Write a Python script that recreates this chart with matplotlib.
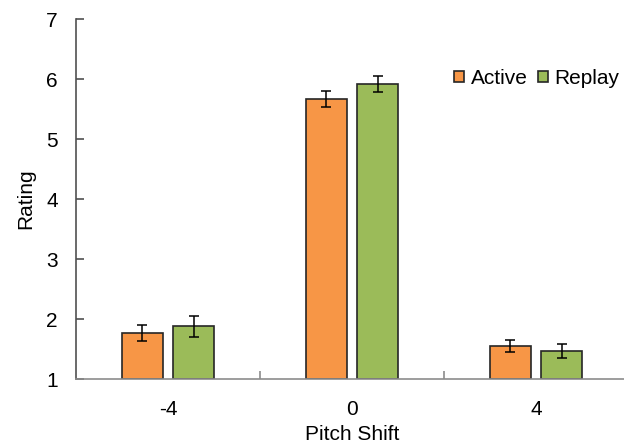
import numpy as np
import matplotlib.pyplot as plt
from matplotlib.ticker import FixedLocator

plt.rcParams['font.family'] = ['Liberation Sans', 'DejaVu Sans']

# ratings per pitch-shift condition
shifts = ["-4", "0", "4"]
active_mean = [1.77, 5.67, 1.55]
active_err = [0.14, 0.13, 0.10]
replay_mean = [1.88, 5.92, 1.47]
replay_err = [0.17, 0.14, 0.12]

ORANGE = "#F79646"
GREEN = "#9BBB59"
EDGE = "#262626"
LEFT_AX = "#505050"
BOTTOM_AX = "#8c8c8c"
FS = 15

fig = plt.figure(figsize=(6.24, 4.45), dpi=100)
ax = fig.add_axes([0.1218, 0.148, 0.8846, 0.809])

x = np.arange(len(shifts))
w = 0.223
off = 0.141
err_kw = dict(ecolor="black", capsize=3.5, elinewidth=1.1, capthick=1.1)
ax.bar(x - off, np.array(active_mean) - 1, w, bottom=1, color=ORANGE,
       edgecolor=EDGE, lw=1.2, yerr=active_err, error_kw=err_kw, label="Active")
ax.bar(x + off, np.array(replay_mean) - 1, w, bottom=1, color=GREEN,
       edgecolor=EDGE, lw=1.2, yerr=replay_err, error_kw=err_kw, label="Replay")

ax.set_xlim(-0.5, 2.5)
ax.set_ylim(1, 7)
ax.set_yticks(range(1, 8))
ax.set_xticks(x)
ax.set_xticklabels(shifts)
ax.xaxis.set_minor_locator(FixedLocator([0.5, 1.5]))
ax.tick_params(axis="x", which="major", length=0, pad=15, labelsize=FS)
ax.tick_params(axis="x", which="minor", direction="in", length=6, color=BOTTOM_AX, width=1.2)
ax.tick_params(axis="y", direction="in", length=6, color=LEFT_AX, width=1.2,
               labelsize=FS, pad=13)

for side in ("top", "right"):
    ax.spines[side].set_visible(False)
ax.spines["left"].set_color(LEFT_AX)
ax.spines["bottom"].set_color(BOTTOM_AX)
ax.spines["left"].set_linewidth(1.2)
ax.spines["bottom"].set_linewidth(1.2)

ax.set_xlabel("Pitch Shift", fontsize=FS, labelpad=4)
ax.set_ylabel("Rating", fontsize=FS, labelpad=8)

ax.legend(loc="upper right", bbox_to_anchor=(1.0, 0.885), ncol=2, frameon=False,
          fontsize=FS, handlelength=0.5, handleheight=0.5, handletextpad=0.3,
          columnspacing=0.5, borderaxespad=0)

fig.savefig("out.png", dpi=100)
